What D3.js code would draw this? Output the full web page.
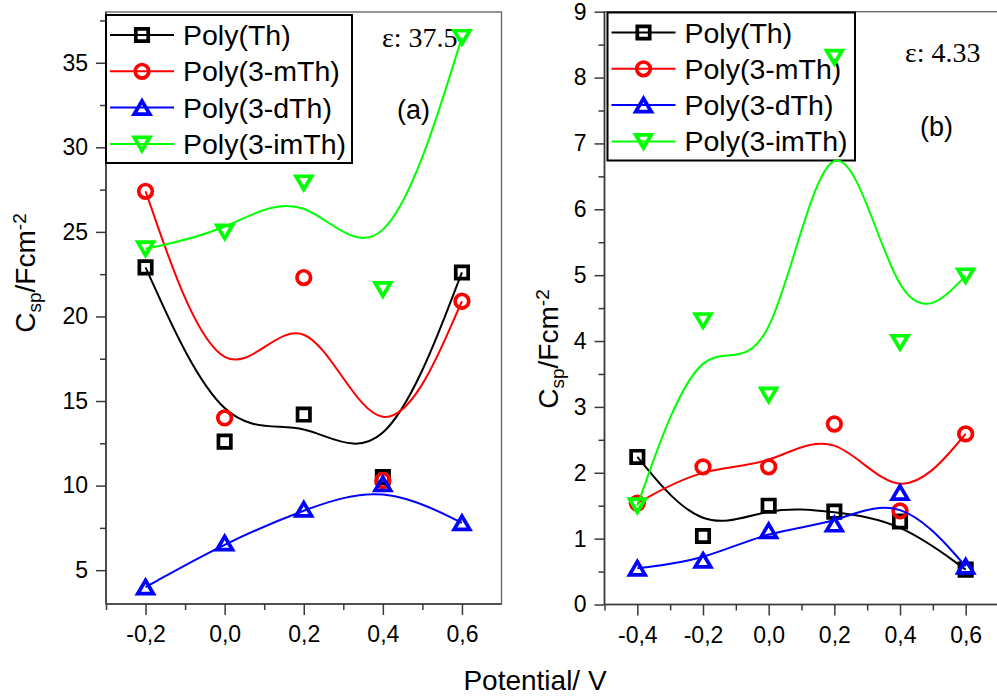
<!DOCTYPE html>
<html><head><meta charset="utf-8">
<script src="https://cdn.jsdelivr.net/npm/d3@7"></script>
<style>
body{margin:0;background:#fff}
svg{display:block}
text{font-family:"Liberation Sans",Arial,Helvetica,sans-serif;fill:#000}
text.serif{font-family:"Liberation Serif","Times New Roman",serif}
</style>
</head><body>
<svg id="chart" width="997" height="700"></svg>
<script>
// ---------- data ----------
const seriesNames = ["Poly(Th)", "Poly(3-mTh)", "Poly(3-dTh)", "Poly(3-imTh)"];
const seriesColors = ["#000000", "#ff0000", "#0000ff", "#00ff00"];
const seriesSymbols = ["square", "circle", "triangleUp", "triangleDown"];

const potentialA = [-0.2, 0.0, 0.2, 0.4, 0.6];
const polyThA    = [22.9, 12.6, 14.2, 10.5, 22.6];
const poly3mThA  = [27.4, 14.0, 22.3, 10.3, 20.9];
const poly3dThA  = [4.0, 6.6, 8.6, 10.1, 7.8];
const poly3imThA = [24.0, 25.0, 27.9, 21.6, 36.5];

const potentialB = [-0.4, -0.2, 0.0, 0.2, 0.4, 0.6];
const polyThB    = [2.24, 1.04, 1.50, 1.41, 1.26, 0.53];
const poly3mThB  = [1.54, 2.09, 2.09, 2.74, 1.42, 2.59];
const poly3dThB  = [0.55, 0.67, 1.12, 1.22, 1.70, 0.58];
const poly3imThB = [1.50, 4.31, 3.18, 8.31, 3.98, 4.99];

const xTicksA = [-0.2, 0.0, 0.2, 0.4, 0.6];
const xMinorA = [-0.3, -0.1, 0.1, 0.3, 0.5];
const yTicksA = [5, 10, 15, 20, 25, 30, 35];
const yMinorA = [7.5, 12.5, 17.5, 22.5, 27.5, 32.5, 37.5];

const xTicksB = [-0.4, -0.2, 0.0, 0.2, 0.4, 0.6];
const xMinorB = [-0.5, -0.3, -0.1, 0.1, 0.3, 0.5];
const yTicksB = [0, 1, 2, 3, 4, 5, 6, 7, 8, 9];
const yMinorB = [0.5, 1.5, 2.5, 3.5, 4.5, 5.5, 6.5, 7.5, 8.5];

const epsilonA = "ε: 37.5", labelA = "(a)";
const epsilonB = "ε: 4.33", labelB = "(b)";
const xAxisTitle = "Potential/ V";

// ---------- layout ----------
const panels = [
  { xDomain: [-0.3, 0.7], yDomain: [3, 38], left: 106, right: 501.5, top: 12, bottom: 604,
    x: potentialA, ys: [polyThA, poly3mThA, poly3dThA, poly3imThA],
    xTicks: xTicksA, xMinor: xMinorA, yTicks: yTicksA, yMinor: yMinorA,
    legend: { x: 106, y: 15, w: 246, h: 148 },
    eps: { text: epsilonA, x: 382, y: 47 }, tag: { text: labelA, x: 397, y: 119 },
    ylab: { x: 35, y: 273 } },
  { xDomain: [-0.5, 0.7], yDomain: [0, 9], left: 604.5, right: 998.5, top: 11.7, bottom: 604.5,
    x: potentialB, ys: [polyThB, poly3mThB, poly3dThB, poly3imThB],
    xTicks: xTicksB, xMinor: xMinorB, yTicks: yTicksB, yMinor: yMinorB,
    legend: { x: 607.5, y: 12.5, w: 247.5, h: 148 },
    eps: { text: epsilonB, x: 905, y: 62 }, tag: { text: labelB, x: 920, y: 136 },
    ylab: { x: 558, y: 349 } }
];

const svg = d3.select("#chart");

function symbolPath(kind) {
  if (kind === "square") { const s = 6.2; return `M${-s},${-s}H${s}V${s}H${-s}Z`; }
  if (kind === "circle") { const r = 6.8; return `M${r},0A${r},${r} 0 1,1 ${-r},0A${r},${r} 0 1,1 ${r},0Z`; }
  const w = 7.8, h = 6.6;
  if (kind === "triangleUp") return `M0,${-h}L${w},${h}L${-w},${h}Z`;
  return `M0,${h}L${w},${-h}L${-w},${-h}Z`;
}

const fmtX = d => d.toFixed(1).replace(".", ",");
const markerStroke = 3.7;

panels.forEach(p => {
  const x = d3.scaleLinear().domain(p.xDomain).range([p.left, p.right]);
  const y = d3.scaleLinear().domain(p.yDomain).range([p.bottom, p.top]);
  const g = svg.append("g");

  // frame (top / right)
  g.append("rect").attr("x", p.left).attr("y", p.top)
    .attr("width", p.right - p.left).attr("height", p.bottom - p.top)
    .attr("fill", "none").attr("stroke", "#6a6a6a").attr("stroke-width", 1.4);

  // axes
  const yAxis = g.append("g").attr("transform", `translate(${p.left},0)`)
    .call(d3.axisLeft(y).tickValues(p.yTicks).tickSize(10).tickPadding(8).tickFormat(d3.format("d")));
  const yMin = g.append("g").attr("transform", `translate(${p.left},0)`)
    .call(d3.axisLeft(y).tickValues(p.yMinor).tickSize(6).tickFormat(""));
  const xAxis = g.append("g").attr("transform", `translate(0,${p.bottom})`)
    .call(d3.axisBottom(x).tickValues(p.xTicks).tickSize(11).tickPadding(11).tickFormat(fmtX));
  const xMin = g.append("g").attr("transform", `translate(0,${p.bottom})`)
    .call(d3.axisBottom(x).tickValues(p.xMinor).tickSize(6).tickFormat(""));
  [yAxis, yMin, xAxis, xMin].forEach(a => {
    a.select(".domain").attr("stroke", "#3a3a3a").attr("stroke-width", 1.6);
    a.selectAll(".tick line").attr("stroke", "#3a3a3a").attr("stroke-width", 1.5);
    a.selectAll(".tick text").style("font-size", "23px").style("fill", "#000");
  });
  xAxis.select(".domain").attr("d", `M${p.left},0H${p.right}`);
  xMin.select(".domain").remove();
  yMin.select(".domain").remove();
  yAxis.select(".domain").attr("d", `M0,${p.top}V${p.bottom}`);

  // y axis title
  const yt = g.append("text")
    .attr("transform", `translate(${p.ylab.x},${p.ylab.y}) rotate(-90)`)
    .attr("text-anchor", "middle").style("font-size", "28px");
  yt.append("tspan").text("C");
  yt.append("tspan").style("font-size", "19px").attr("dy", 6).text("sp");
  yt.append("tspan").attr("dy", -6).text("/Fcm");
  yt.append("tspan").style("font-size", "19px").attr("dy", -9).text("-2");

  // legend
  const L = p.legend;
  g.append("rect").attr("x", L.x).attr("y", L.y).attr("width", L.w).attr("height", L.h)
    .attr("fill", "#fff").attr("stroke", "#000").attr("stroke-width", 2);
  seriesNames.forEach((name, i) => {
    const cy = L.y + 20 + i * 36.3;
    g.append("line").attr("x1", L.x + 4).attr("x2", L.x + 68).attr("y1", cy).attr("y2", cy)
      .attr("stroke", seriesColors[i]).attr("stroke-width", 2);
    g.append("path").attr("d", symbolPath(seriesSymbols[i]))
      .attr("transform", `translate(${L.x + 36},${cy})`)
      .attr("fill", "none").attr("stroke", seriesColors[i]).attr("stroke-width", markerStroke);
    g.append("text").attr("x", L.x + 77).attr("y", cy + 10).style("font-size", "28.5px").text(name);
  });

  // annotations
  g.append("text").attr("class", "serif").attr("x", p.eps.x).attr("y", p.eps.y)
    .style("font-size", "28px").text(p.eps.text);
  g.append("text").attr("x", p.tag.x).attr("y", p.tag.y).style("font-size", "27px").text(p.tag.text);

  // series
  const line = d3.line().x(d => x(d[0])).y(d => y(d[1])).curve(d3.curveBasis);
  p.ys.forEach((vals, i) => {
    const pts = p.x.map((xv, j) => [xv, vals[j]]);
    g.append("path").attr("d", line(pts)).attr("fill", "none")
      .attr("stroke", seriesColors[i]).attr("stroke-width", 2);
    g.selectAll(null).data(pts).enter().append("path")
      .attr("d", symbolPath(seriesSymbols[i]))
      .attr("transform", d => `translate(${x(d[0])},${y(d[1])})`)
      .attr("fill", "none").attr("stroke", seriesColors[i]).attr("stroke-width", markerStroke);
  });
});

svg.append("text").attr("x", 535).attr("y", 690).attr("text-anchor", "middle")
  .style("font-size", "28px").text(xAxisTitle);
</script>
</body></html>
